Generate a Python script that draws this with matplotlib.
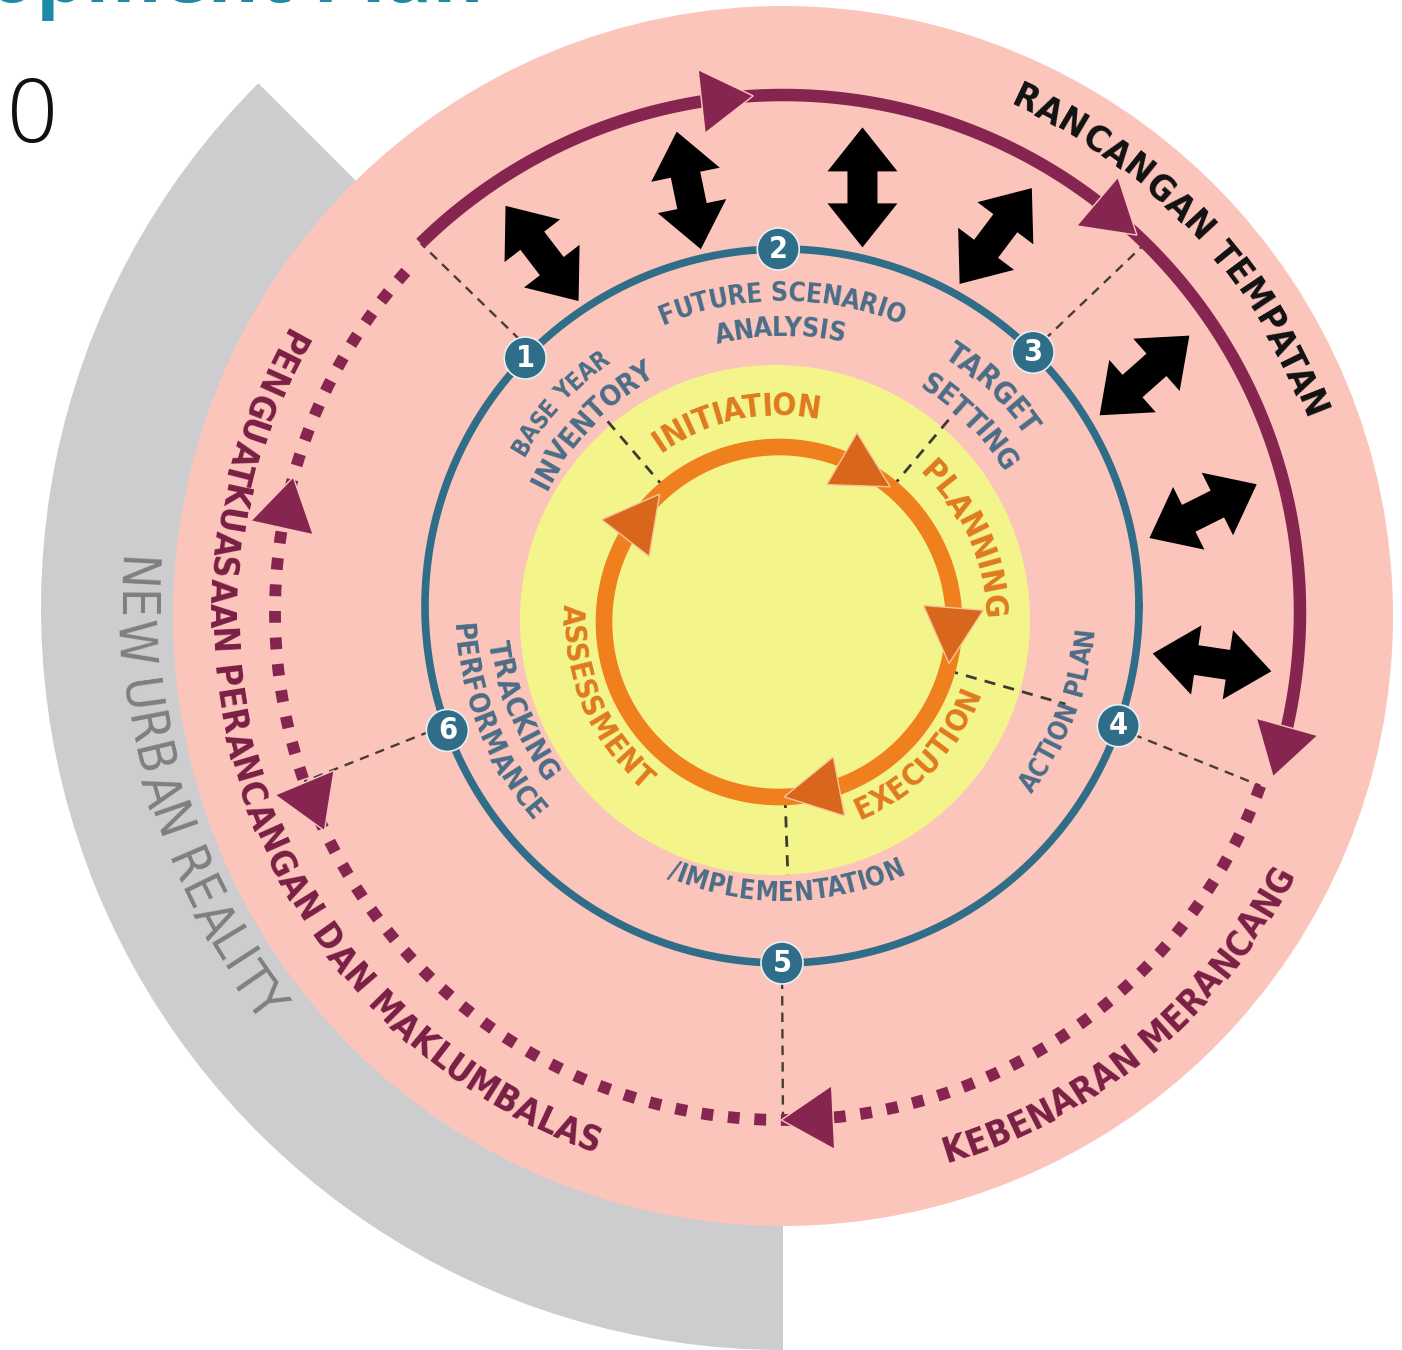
import numpy as np
import matplotlib.pyplot as plt
from matplotlib.patches import Circle, Wedge, Polygon
from matplotlib.font_manager import FontProperties, fontManager
from matplotlib.textpath import text_to_path

W, H = 1402, 1350
PX = 100 / 72.0  # pixels per point at dpi=100

# ---- diagram content (angles in degrees, counter-clockwise from 3 o'clock) ----
step_numbers = ['1', '2', '3', '4', '5', '6']
step_angles = [136, 90.6, 45.3, -19.6, 270, 200.4]

blue_labels = ['FUTURE SCENARIO', 'ANALYSIS', 'BASE YEAR', 'INVENTORY', 'TARGET',
               'SETTING', 'ACTION PLAN', '/IMPLEMENTATION', 'PERFORMANCE', 'TRACKING']
blue_radius = [312, 277, 305, 270, 305, 266, 305, 288, 322, 288]
blue_from = [113, 104, 150, 154, 57, 58, -37, 247, 183, 187]
blue_to = [67, 77, 125, 119, 35, 31, -4, 295, 221, 217]

cycle_labels = ['INITIATION', 'PLANNING', 'EXECUTION', 'ASSESSMENT']
cycle_radius = [215, 213, 205, 208]
cycle_from = [125, 47, -68, 175]
cycle_to = [79, 1, -19, 231]
cycle_arrow_tips = [50.6, -13.7, -88.3, 133]

outer_labels = ['RANCANGAN TEMPATAN', 'PENGUATKUASAAN PERANCANGAN DAN MAKLUMBALAS',
                'KEBENARAN MERANCANG']
outer_colors = ['#111111', '#7a1f45', '#7a1f45']
outer_radius = [566, 563, 565]
outer_from = [66, 150, -73.5]
outer_to = [20, 251, -27]

reality_label = 'NEW URBAN REALITY'
reality_span = [175.5, 218.5]

# arrowheads on the outer loop: tip angle, travel sense (+1 clockwise)
solid_tips = [93.3, 46.8, -18.6]
dotted_tips = [164.6, 205.5, 269.8]
dotted_sense = [1, -1, 1]

# black two-way arrows between the step ring and the outer loop
link_angles = [123.9, 102.6, 79.4, 60.5, 33.2, 13.5, -6.7]
link_axis = [127.5, 101.6, 90, 53, 41.6, 26.6, -8.5]

# dashed leader lines: angle, inner radius, outer radius
outer_lead_angle = [134.5, 45.5, -20, 270, 199.5]
inner_lead_angle = [130.5, 50, -16, -88]
inner_lead_r = [282, 277, 298, 253]

# ---- fonts: prefer a condensed sans if one is installed ----
NARROW, STRETCH = 'Roboto', 'normal'
for f in fontManager.ttflist:
    if 'Narrow' in f.name or 'Condensed' in f.name or \
            f.stretch in ('condensed', 'semi-condensed'):
        NARROW, STRETCH = f.name, f.stretch
        break

# ---- geometry (image pixels) ----
cx = 783
pink_c, pink_r = (cx, H - 616), 610
gray_c, gray_r = (cx, H - 608), 742
yel_c, yel_r = (775, H - 620), 255
org_c, org_r = (779, H - 622), 175
blue_c, blue_r = (782, H - 606), 357
loop_c, solid_r, dot_r = (cx, H - 612), 517, 508

fig = plt.figure(figsize=(W / 100, H / 100), dpi=100)
ax = fig.add_axes([0, 0, 1, 1])
ax.set_xlim(0, W)
ax.set_ylim(0, H)
ax.set_aspect('equal')
ax.axis('off')


def arc_xy(c, r, a0, a1, n=500):
    t = np.radians(np.linspace(a0, a1, n))
    return c[0] + r * np.cos(t), c[1] + r * np.sin(t)


def polar(c, r, a):
    t = np.radians(a)
    return np.array([c[0] + r * np.cos(t), c[1] + r * np.sin(t)])


def arrow_head(c, r, tip, sense, length, width, color, z=6, ec='none'):
    P = polar(c, r, tip)
    B = polar(c, r, tip + sense * np.degrees(length / r))
    u = (P - B) / np.linalg.norm(P - B)
    n = np.array([-u[1], u[0]])
    ax.add_patch(Polygon([P, B + n * width / 2, B - n * width / 2], closed=True,
                         fc=color, ec=ec, lw=1, zorder=z))


def two_way(x0, y0, axis, half=60, head=44, head_w=35, shaft_w=15):
    u = np.array([np.cos(np.radians(axis)), np.sin(np.radians(axis))])
    n = np.array([-u[1], u[0]])
    local = [(half, 0), (half - head, head_w), (half - head, shaft_w),
             (-half + head, shaft_w), (-half + head, head_w), (-half, 0),
             (-half + head, -head_w), (-half + head, -shaft_w),
             (half - head, -shaft_w), (half - head, -head_w)]
    pts = [np.array([x0, y0]) + a * u + b * n for a, b in local]
    ax.add_patch(Polygon(pts, closed=True, fc='black', ec='none', zorder=6))


def tw(s, fp):
    return text_to_path.get_text_width_height_descent(s, fp, ismath=False)[0] * PX


def arc_text(s, c, r, a0, a1, size, color, weight='bold', family=None,
             stretch=None, z=8):
    family = family or NARROW
    stretch = stretch or STRETCH
    fp = FontProperties(family=family, weight=weight, size=size, stretch=stretch)
    span = abs(np.radians(a1 - a0)) * r
    total = tw(s, fp)
    if total > span:  # shrink to avoid overlapping letters
        size = size * span / total
        fp = FontProperties(family=family, weight=weight, size=size, stretch=stretch)
        total = tw(s, fp)
    outward = a1 < a0  # clockwise reading -> letter tops face outwards
    for i, ch in enumerate(s):
        if ch == ' ':
            continue
        right = tw(s[:i + 1], fp)
        own = tw(ch, fp)
        frac = (right - own / 2) / total
        a = a0 + (a1 - a0) * frac
        x, y = polar(c, r, a)
        rot = a - 90 if outward else a + 90
        ax.text(x, y, ch, rotation=rot, rotation_mode='anchor', ha='center',
                va='center', fontproperties=fp, color=color, zorder=z)


# background shapes
ax.add_patch(Wedge(gray_c, gray_r, 135, 270, width=420, fc='#cdcdcf', ec='none', zorder=1))
ax.add_patch(Circle(pink_c, pink_r, fc='#fcc5bc', ec='none', zorder=2))
ax.add_patch(Circle(yel_c, yel_r, fc='#f3f58b', ec='none', zorder=3))

# dashed leaders
for a in outer_lead_angle:
    p0 = polar(blue_c, blue_r, a)
    p1 = polar(loop_c, dot_r if a > 150 or a < 0 else solid_r, a)
    ax.plot([p0[0], p1[0]], [p0[1], p1[1]], color='#4b3b35', lw=1.7,
            dashes=(4, 3), zorder=4)
for a, r in zip(inner_lead_angle, inner_lead_r):
    p0 = polar(org_c, org_r, a)
    p1 = polar(org_c, r, a)
    ax.plot([p0[0], p1[0]], [p0[1], p1[1]], color='#3f3a30', lw=2,
            dashes=(4, 3), zorder=4)

# outer loop: solid over the top, square dots around the rest
xs, ys = arc_xy(loop_c, solid_r, 134.5, -15)
ax.plot(xs, ys, color='#862650', lw=9, solid_capstyle='butt', zorder=5)
xs, ys = arc_xy(loop_c, dot_r, 137, 340)
ax.plot(xs[::-1], ys[::-1], color='#862650', lw=8.5, dashes=(1, 1.25),
        dash_capstyle='butt', zorder=5)
for t in solid_tips:
    arrow_head(loop_c, solid_r, t, 1, 52, 64, '#862650', ec='#fcc5bc')
for t, s in zip(dotted_tips, dotted_sense):
    arrow_head(loop_c, dot_r, t, s, 52, 64, '#862650', ec='#fcc5bc')

# step ring and cycle ring
xs, ys = arc_xy(blue_c, blue_r, 0, 360)
ax.plot(xs, ys, color='#2f6d88', lw=5.5, zorder=5)
xs, ys = arc_xy(org_c, org_r, 0, 360)
ax.plot(xs, ys, color='#f07f1e', lw=12, zorder=5)
for t in cycle_arrow_tips:
    arrow_head(org_c, org_r, t, 1, 56, 60, '#d8661b', ec='#f7c59a')

# two-way arrows
for a, axis in zip(link_angles, link_axis):
    x0, y0 = polar(loop_c, 432, a)
    two_way(x0, y0, axis)

# numbered badges
for num, a in zip(step_numbers, step_angles):
    x, y = polar(blue_c, blue_r, a)
    ax.add_patch(Circle((x, y), 21, fc='#2f6d88', ec='#e8f0f3', lw=1.2, zorder=7))
    ax.text(x, y, num, ha='center', va='center', color='white', fontsize=22,
            fontweight='bold', family=NARROW, fontstretch=STRETCH, zorder=8)

# labels
for s, r, a0, a1 in zip(blue_labels, blue_radius, blue_from, blue_to):
    arc_text(s, blue_c, r, a0, a1, 22, '#4b6d87')
for s, r, a0, a1 in zip(cycle_labels, cycle_radius, cycle_from, cycle_to):
    arc_text(s, org_c, r, a0, a1, 27, '#df7a1f')
for s, col, r, a0, a1 in zip(outer_labels, outer_colors, outer_radius, outer_from, outer_to):
    arc_text(s, loop_c, r, a0, a1, 26, col)
arc_text(reality_label, gray_c, 652, reality_span[0], reality_span[1], 44, '#7f7f82',
         weight='normal')

# fragments of the page title cut off at the top
ax.text(32, H - 119, '0', ha='center', va='center', fontsize=64, color='#111111',
        family='Open Sans', fontweight='light')
ax.text(-12, H - 2, 'opment Plan', ha='left', va='baseline', fontsize=56,
        fontweight='bold', color='#1b8ba3', family='Open Sans')

fig.savefig('out.png', dpi=100)
